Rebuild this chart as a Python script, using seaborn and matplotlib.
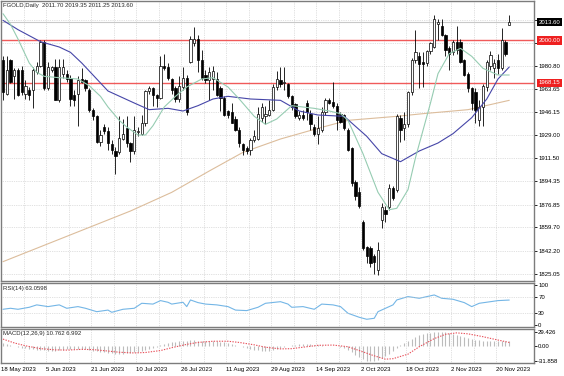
import numpy as np
import pandas as pd
import seaborn as sns
import matplotlib
matplotlib.use("Agg")
import matplotlib.pyplot as plt
import matplotlib.transforms as mtransforms

# daily candles, 18 May 2023 .. 23 Nov 2023 (bar index = position)
opens = [1985, 1960, 1985, 1973, 1978, 1978, 1960, 1963, 1963, 1976,
         1981, 1999, 1964, 1978, 1980, 1955, 1975, 1975, 1972, 1959,
         1960, 1971, 1970, 1963, 1948, 1943, 1924, 1935, 1932, 1922,
         1917, 1916, 1926, 1934, 1923, 1917, 1931, 1930, 1938, 1962,
         1964, 1959, 1957, 1981, 1980, 1971, 1964, 1956, 1965, 1972,
         1984, 1998, 2001, 1985, 1974, 1970, 1971, 1971, 1964, 1957,
         1947, 1946, 1941, 1933, 1922, 1919, 1918, 1925, 1926, 1942,
         1943, 1944, 1948, 1965, 1970, 1968, 1967, 1958, 1952, 1942,
         1944, 1953, 1945, 1935, 1930, 1933, 1946, 1955, 1954, 1951,
         1945, 1944, 1933, 1919, 1894, 1886, 1864, 1845, 1844, 1838,
         1828, 1865, 1873, 1875, 1889, 1888, 1942, 1934, 1937, 1961,
         1985, 1988, 1984, 1983, 1992, 1995, 2012, 2011, 2004, 1994,
         1991, 1999, 1999, 1985, 1975, 1964, 1961, 1940, 1950, 1965,
         1981, 1979, 1985, 1979, 1999, 2011.70]
highs = [1988, 1988, 1986, 1979, 1979, 1981, 1970, 1965, 1980, 1984,
         2000, 2000, 1984, 1981, 1986, 1986, 1986, 1978, 1974, 1963,
         1973, 1979, 1971, 1964, 1949, 1944, 1933, 1937, 1935, 1925,
         1920, 1943, 1941, 1943, 1924, 1943, 1935, 1944, 1963, 1966,
         1965, 1960, 1988, 1990, 1983, 1972, 1966, 1973, 1980, 1974,
         2003, 2010, 2004, 1993, 1978, 1980, 1981, 1976, 1966, 1958,
         1948, 1953, 1943, 1935, 1923, 1921, 1927, 1933, 1950, 1953,
         1951, 1955, 1967, 1977, 1980, 1980, 1968, 1959, 1953, 1947,
         1948, 1955, 1948, 1937, 1943, 1950, 1957, 1957, 1969, 1953,
         1946, 1945, 1934, 1920, 1895, 1890, 1865, 1846, 1846, 1840,
         1849, 1878, 1876, 1892, 1891, 1945, 1944, 1946, 1962, 1987,
         2008, 1991, 1991, 1993, 1999, 2019, 2016, 2016, 2005, 1996,
         2000, 2011, 2001, 1986, 1976, 1965, 1964, 1955, 1967, 1985,
         1992, 1986, 1990, 2009, 2000, 2019.35]
lows = [1955, 1959, 1968, 1956, 1958, 1959, 1956, 1955, 1949, 1975,
        1980, 1963, 1963, 1976, 1955, 1954, 1972, 1969, 1951, 1951,
        1936, 1968, 1962, 1946, 1940, 1923, 1921, 1930, 1918, 1915,
        1900, 1915, 1925, 1920, 1909, 1915, 1928, 1929, 1936, 1960,
        1951, 1950, 1956, 1978, 1970, 1960, 1954, 1954, 1963, 1944,
        1983, 1996, 1976, 1970, 1968, 1955, 1963, 1958, 1947, 1943,
        1942, 1938, 1932, 1920, 1914, 1915, 1914, 1924, 1925, 1939,
        1937, 1943, 1947, 1963, 1965, 1963, 1957, 1948, 1942, 1940,
        1940, 1940, 1933, 1928, 1922, 1931, 1944, 1952, 1949, 1933,
        1938, 1933, 1917, 1891, 1880, 1874, 1843, 1833, 1830, 1825,
        1824, 1859, 1864, 1873, 1880, 1886, 1924, 1925, 1935, 1959,
        1983, 1964, 1965, 1981, 1990, 1994, 2000, 2003, 1988, 1978,
        1989, 1990, 1983, 1973, 1961, 1948, 1938, 1936, 1936, 1962,
        1978, 1972, 1975, 1978, 1988, 2011.25]
closes = [1961, 1978, 1969, 1978, 1959, 1961, 1966, 1959, 1978, 1981,
          1999, 1964, 1980, 1980, 1955, 1980, 1980, 1971, 1956, 1955,
          1970, 1969, 1964, 1948, 1943, 1924, 1929, 1932, 1923, 1918,
          1913, 1927, 1930, 1923, 1917, 1933, 1932, 1938, 1962, 1964,
          1959, 1957, 1981, 1979, 1972, 1963, 1956, 1966, 1972, 1946,
          2001, 2001, 1985, 1972, 1970, 1976, 1977, 1959, 1957, 1944,
          1944, 1938, 1933, 1923, 1918, 1917, 1925, 1928, 1945, 1950,
          1945, 1948, 1965, 1971, 1967, 1968, 1958, 1950, 1943, 1944,
          1942, 1946, 1937, 1930, 1934, 1946, 1955, 1953, 1951, 1940,
          1939, 1934, 1918, 1893, 1883, 1876, 1844, 1838, 1833, 1834,
          1843, 1875, 1870, 1889, 1882, 1943, 1933, 1937, 1961, 1985,
          1991, 1982, 1982, 1992, 1998, 2016, 2014, 2004, 1993, 1990,
          1999, 1993, 1984, 1974, 1964, 1953, 1948, 1950, 1966, 1984,
          1989, 1983, 1979, 2000, 1990, 2013.60]

# moving averages (bar index, price)
fast_idx = [0, 2, 4, 7, 9, 11, 15, 20, 23, 26, 28, 31, 33, 36, 38, 40, 43, 46, 49, 53,
            56, 60, 63, 67, 70, 73, 77, 80, 83, 87, 90, 92, 96, 100, 103, 105, 108, 110,
            114, 116, 119, 122, 125, 128, 132, 135]
fast_ma = [2020, 2012, 2001, 1983, 1976, 1973, 1972, 1971, 1966, 1958, 1950, 1940, 1935,
           1929, 1929, 1936, 1950, 1958, 1965, 1971, 1972, 1965, 1956, 1943, 1937, 1941,
           1951, 1950, 1949, 1947, 1945, 1940, 1915, 1886, 1873, 1874, 1888, 1912, 1953,
           1975, 1990, 1994, 1988, 1979, 1974, 1974]
slow_idx = [0, 4, 10, 15, 18, 21, 25, 28, 35, 39, 44, 48, 52, 56, 60, 66, 74, 79, 84, 91,
            97, 101, 106, 111, 116, 120, 125, 129, 132, 135]
slow_ma = [2015, 2008, 1999, 1995, 1991, 1983, 1971, 1962, 1953, 1948, 1949, 1947, 1951,
           1956, 1958, 1956, 1955, 1947, 1944, 1943, 1928, 1915, 1909, 1917, 1923, 1930,
           1942, 1956, 1971, 1980]
long_idx = [0, 17, 34, 45, 55, 64, 74, 84, 92, 105, 112, 124, 135]
long_ma = [1834, 1853, 1872, 1886, 1902, 1916, 1926, 1934, 1940, 1943, 1945, 1948, 1955]

red_levels = [2000.00, 1968.15]
price_ticks = [2015.45, 1998.30, 1980.80, 1963.65, 1946.15, 1929.00, 1911.50,
               1894.35, 1876.85, 1859.70, 1842.20, 1825.05]
hidden_ticks = [2015.45, 1998.30]  # covered by the price boxes in the reference

# RSI(14)
rsi_idx = [0, 2, 4, 7, 9, 12, 15, 17, 20, 22, 25, 28, 29, 32, 35, 37, 40, 42, 44, 45,
           48, 49, 50, 52, 54, 57, 60, 62, 65, 68, 70, 74, 76, 77, 80, 83, 85, 88, 90,
           92, 95, 97, 99, 100, 102, 104, 105, 108, 111, 115, 117, 120, 123, 125, 127,
           130, 132, 135]
rsi_vals = [40, 42.5, 40, 45, 51, 46.7, 51, 42.5, 46.7, 42.5, 34, 38, 32.5, 40, 42.5, 55,
            53, 61.7, 57.5, 53, 57.5, 46.7, 63.3, 56.7, 53, 51, 46.7, 38, 36.7, 45, 55, 59,
            53, 45, 46.7, 40, 53, 51, 46.7, 30, 20, 15, 17.5, 34, 42.5, 51, 63.3, 71.7,
            67.5, 75.8, 67.5, 65, 56.7, 46.7, 55, 59, 61.7, 63.0598]

# MACD(12,26,9): main as histogram (one per bar), signal read at points
macd_hist = [6, 4, 2, 0, -2, -4, -5, -6, -7, -8,
             -9, -9, -10, -10, -10, -9, -8, -7, -6, -6,
             -6, -6, -7, -8, -10, -11, -12, -13, -15, -16,
             -17, -17, -17, -16, -15, -14, -12, -11, -9, -7,
             -5, -2, 1, 3, 5, 7, 8, 9, 10, 11,
             12, 12, 11, 11, 11, 10, 10, 9, 8, 7,
             6, 4, 2, -1, -3, -5, -7, -8, -9, -10,
             -10, -10, -9, -7, -5, -3, -1, 1, 2, 3,
             3, 3, 3, 2, 1, 1, 0, 0, 0, -1,
             -2, -5, -9, -14, -19, -24, -28, -31, -31.858, -31,
             -29, -26, -22, -17, -11, -4, 1, 6, 11, 15,
             19, 22, 24, 26, 27, 28.5, 29.426, 29, 28, 27,
             25, 23, 21, 19, 17, 15, 13, 12, 11, 10.5,
             10.5, 10.5, 10.5, 11, 10.5, 10.762]
sig_idx = [0, 3, 6, 10, 14, 17, 21, 24, 28, 31, 35, 38, 42, 45, 49, 52, 56, 60, 63, 67,
           70, 74, 77, 81, 84, 88, 92, 95, 99, 102, 104, 108, 111, 115, 118, 121, 124,
           128, 132, 135]
sig_vals = [14, 6, 0, -6, -8.5, -9, -7.5, -8, -11, -13.5, -15, -14, -10, -4, 3, 7, 9.5,
            9.5, 7, 2, -3, -6.5, -6, -2, 1, 1.5, -2, -10, -21, -28, -27, -17.5, -2, 15,
            24, 27, 25, 19, 12, 6.992]
macd_ticks = [29.426, 0.0, -31.858]

date_labels = ['18 May 2023', '5 Jun 2023', '21 Jun 2023', '10 Jul 2023', '26 Jul 2023',
               '11 Aug 2023', '29 Aug 2023', '14 Sep 2023', '2 Oct 2023', '18 Oct 2023',
               '2 Nov 2023', '20 Nov 2023']

sns.set_theme(style="white")
plt.rcParams['font.family'] = ['Liberation Sans', 'DejaVu Sans']
plt.rcParams['axes.unicode_minus'] = False

FS = 4.3
GRID = dict(color='#c4c4c4', linestyle=(0, (1, 1.6)), linewidth=0.5)

df = pd.DataFrame({'open': opens, 'high': highs, 'low': lows, 'close': closes})
df['bar'] = np.arange(len(df))

W, H = 564, 376
fig = plt.figure(figsize=(W / 100, H / 100), dpi=100)


def box(x0, y0, x1, y1):
    return [x0 / W, 1 - y1 / H, (x1 - x0) / W, (y1 - y0) / H]


ax = fig.add_axes(box(1, 1, 534, 281))
ax_rsi = fig.add_axes(box(1, 283, 534, 327), sharex=ax)
ax_macd = fig.add_axes(box(1, 329, 534, 363), sharex=ax)

# candles
up = df['close'] >= df['open']
body_lo = df[['open', 'close']].min(axis=1)
body_h = (df['close'] - df['open']).abs().clip(lower=0.5)
ax.vlines(df['bar'], df['low'], df['high'], color='black', lw=0.6, zorder=3)
ax.bar(df['bar'][up], body_h[up], bottom=body_lo[up], width=0.6,
       color='white', edgecolor='black', linewidth=0.5, zorder=4)
ax.bar(df['bar'][~up], body_h[~up], bottom=body_lo[~up], width=0.6,
       color='black', edgecolor='black', linewidth=0.5, zorder=4)

sns.lineplot(x=long_idx, y=long_ma, ax=ax, color='#dcbd9c', lw=0.8, zorder=2)
sns.lineplot(x=slow_idx, y=slow_ma, ax=ax, color='#4646a8', lw=0.8, zorder=5)
sns.lineplot(x=fast_idx, y=fast_ma, ax=ax, color='#96ccb2', lw=0.8, zorder=5)

for lvl in red_levels:
    ax.axhline(lvl, color='#f05a5a', lw=1.0, zorder=2)
ax.axhline(closes[-1], color='#c8c8c8', lw=0.8, zorder=1)

ax.set_ylim(1819.5, 2029.5)
ax.set_xlim(-0.53, 141.6)
ax.set_yticks(price_ticks)
ax.set_yticklabels(['' if v in hidden_ticks else f'{v:.2f}' for v in price_ticks])
ax.grid(True, axis='y', **GRID)

trans = mtransforms.blended_transform_factory(ax.transAxes, ax.transData)
for val, fc in [(closes[-1], 'black'), (red_levels[0], '#ee2020'), (red_levels[1], '#ee2020')]:
    ax.text(1.009, val, f'{val:.2f}', transform=trans, ha='left', va='center',
            fontsize=FS, color='white', zorder=10, clip_on=False,
            bbox=dict(boxstyle='square,pad=0.3', fc=fc, ec='none'))

ax.text(0.004, 0.993,
        f'FGOLD,Daily  {opens[-1]:.2f} {highs[-1]:.2f} {lows[-1]:.2f} {closes[-1]:.2f}',
        transform=ax.transAxes, ha='left', va='top', fontsize=FS)

# RSI panel
sns.lineplot(x=rsi_idx, y=rsi_vals, ax=ax_rsi, color='#74b6e6', lw=0.8)
for lvl in (30, 70):
    ax_rsi.axhline(lvl, **GRID)
ax_rsi.set_ylim(-4.3, 105.7)
ax_rsi.set_yticks([0, 30, 70, 100])
ax_rsi.set_yticklabels(['0', '30', '70', '100'])
ax_rsi.text(0.004, 0.93, f'RSI(14) {rsi_vals[-1]:.4f}', transform=ax_rsi.transAxes,
            ha='left', va='top', fontsize=FS)

# MACD panel
ax_macd.vlines(df['bar'], 0, macd_hist, color='#bcbcbc', lw=0.8)
sns.lineplot(x=sig_idx, y=sig_vals, ax=ax_macd, color='#e8505a', lw=0.8,
             linestyle=(0, (1.2, 1.2)))
ax_macd.set_ylim(-36, 35.1)
ax_macd.set_yticks(macd_ticks)
ax_macd.set_yticklabels(['29.426', '0.00', '-31.858'])
ax_macd.text(0.004, 0.93, f'MACD(12,26,9) {macd_hist[-1]:.3f} {sig_vals[-1]:.3f}',
             transform=ax_macd.transAxes, ha='left', va='top', fontsize=FS)

# shared x grid / date axis
grid_pos = np.arange(0, len(df), 6) - 0.5
ax_macd.set_xticks(grid_pos)
ax_macd.set_xticklabels([date_labels[k // 2] if k % 2 == 0 else '' for k in range(len(grid_pos))])
for lbl in ax_macd.get_xticklabels():
    lbl.set_horizontalalignment('left')

for a in (ax, ax_rsi, ax_macd):
    a.grid(True, axis='x', **GRID)
    a.set_xlabel('')
    a.set_ylabel('')
    a.yaxis.tick_right()
    a.tick_params(axis='y', labelsize=FS, length=2, width=0.6, pad=1, colors='black')
    a.tick_params(axis='x', labelsize=FS, length=2, width=0.6, pad=1, colors='black')
    for s in a.spines.values():
        s.set_color('#7c7c7c')
        s.set_linewidth(1.0)
ax.tick_params(axis='x', labelbottom=False, length=0)
ax_rsi.tick_params(axis='x', labelbottom=False, length=0)

fig.savefig('out.png', dpi=100, facecolor='white')
